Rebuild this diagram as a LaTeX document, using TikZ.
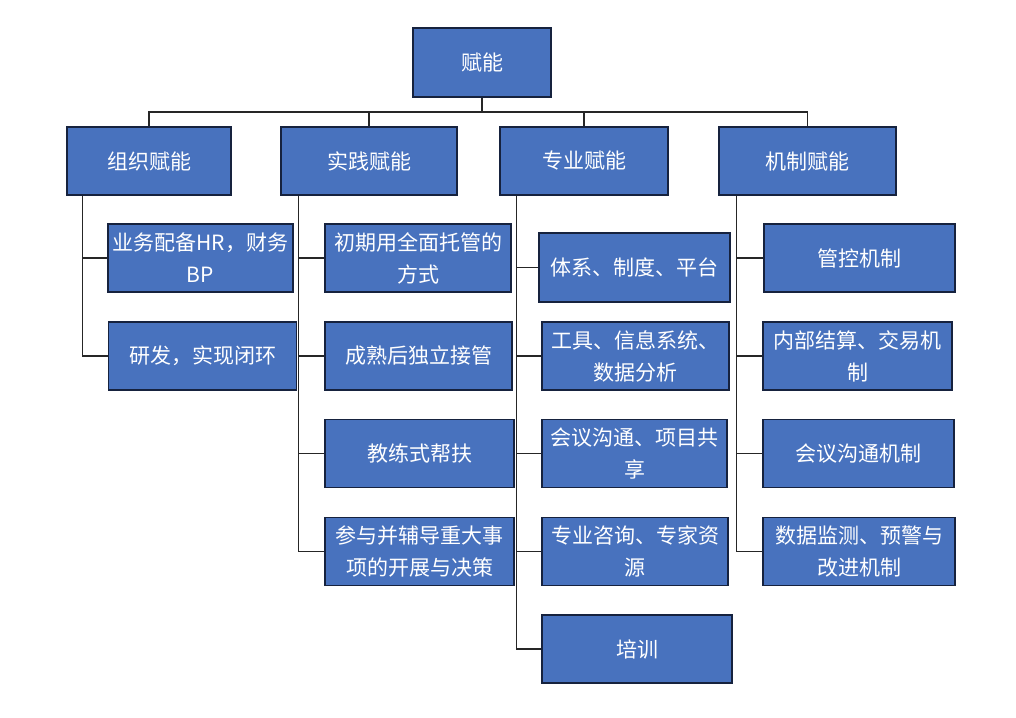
\documentclass[tikz,border=0pt]{standalone}
\usepackage{fontspec}
\usepackage{xcolor}
\usepackage{tikz}
\newfontfamily\cjk{Noto Sans CJK SC}
\definecolor{boxblue}{RGB}{72, 114, 190}
\definecolor{boxedge}{RGB}{22, 34, 62}

\begin{document}
\begin{tikzpicture}[
  x=1pt, y=-1pt,
  box/.style={rectangle, draw=boxedge, line width=1.3pt, fill=boxblue, text=white, inner sep=0pt, minimum width=188pt, minimum height=68pt, align=center, font=\cjk\fontsize{21}{32}\selectfont},
  line/.style={line width=1.2pt, color=black!85}
]
  \useasboundingbox (0,0) rectangle (1016,717);

  % top level
  \node[box, minimum width=138pt, minimum height=69pt] (root) at (482,62.5) {赋能};
  \node[box, minimum width=164pt] (org) at (149,161) {组织赋能};
  \node[box, minimum width=176pt] (prac) at (369,161) {实践赋能};
  \node[box, minimum width=168pt] (prof) at (584,161) {专业赋能};
  \node[box, minimum width=177pt] (mech) at (807.5,161) {机制赋能};

  % children
  \node[box, minimum width=185pt] (org1) at (200.5,258) {业务配备HR，财务\\BP};
  \node[box] (org2) at (202.5,356) {研发，实现闭环};

  \node[box, minimum width=186pt] (prac1) at (418,258) {初期用全面托管的\\方式};
  \node[box, minimum width=187pt] (prac2) at (418.5,356) {成熟后独立接管};
  \node[box, minimum width=189pt] (prac3) at (419.5,453.5) {教练式帮扶};
  \node[box, minimum width=189pt] (prac4) at (419.5,551.5) {参与并辅导重大事\\项的开展与决策};

  \node[box, minimum width=191pt, minimum height=69pt] (prof1) at (634.5,267.5) {体系、制度、平台};
  \node[box, minimum width=187pt] (prof2) at (635.5,356) {工具、信息系统、\\数据分析};
  \node[box, minimum width=185pt] (prof3) at (634.5,453.5) {会议沟通、项目共\\享};
  \node[box, minimum width=186pt] (prof4) at (635,551.5) {专业咨询、专家资\\源};
  \node[box, minimum width=190pt] (prof5) at (637,649) {培训};

  \node[box, minimum width=191pt] (mech1) at (859.5,258) {管控机制};
  \node[box, minimum width=189pt] (mech2) at (857.5,356) {内部结算、交易机\\制};
  \node[box, minimum width=191pt] (mech3) at (858.5,453.5) {会议沟通机制};
  \node[box, minimum width=192pt] (mech4) at (859,551.5) {数据监测、预警与\\改进机制};

  % bus under the root
  \coordinate (bus) at (0,112);
  \draw[line] (root.south) -- (root.south |- bus);
  \draw[line] (org.north) |- (bus -| mech.north) -- (mech.north);
  \draw[line] (prac.north) -- (prac.north |- bus);
  \draw[line] (prof.north) -- (prof.north |- bus);

  % spines to the children
  \draw[line] ([xshift=16pt]org.south west) |- (org1.west);
  \draw[line] ([xshift=16pt]org.south west) |- (org2.west);
  \foreach \c in {prac1, prac2, prac3, prac4}
    \draw[line] ([xshift=18pt]prac.south west) |- (\c.west);
  \foreach \c in {prof1, prof2, prof3, prof4, prof5}
    \draw[line] ([xshift=17pt]prof.south west) |- (\c.west);
  \foreach \c in {mech1, mech2, mech3, mech4}
    \draw[line] ([xshift=18pt]mech.south west) |- (\c.west);
\end{tikzpicture}
\end{document}
